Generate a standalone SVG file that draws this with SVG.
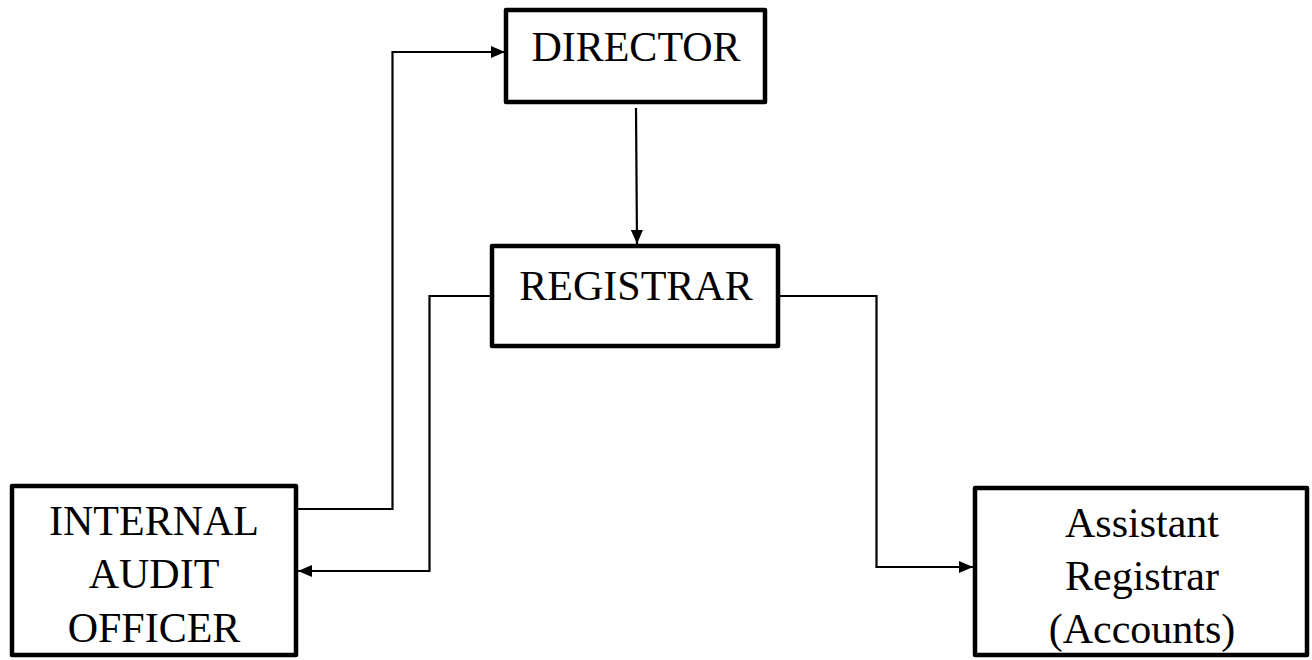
<svg xmlns="http://www.w3.org/2000/svg" width="1312" height="660" viewBox="0 0 1312 660">
<style>
.box{fill:#fff;stroke:#000;stroke-width:4.5;stroke-linejoin:round}
.lbl{font-family:"Liberation Serif","Times New Roman",serif;font-size:42px;fill:#000;text-anchor:middle}
.con{fill:none;stroke:#000;stroke-width:2.2}
</style>
<defs>
<marker id="arr" viewBox="0 0 14 12" refX="14" refY="6" markerWidth="14" markerHeight="12" markerUnits="userSpaceOnUse" orient="auto">
<path d="M0,0 L14,6 L0,12 Z" fill="#000"/>
</marker>
</defs>
<g id="connectors">
<path class="con" d="M298,509 H392.5 V52 H505" marker-end="url(#arr)"/>
<path class="con" d="M636,108 L637,244" marker-end="url(#arr)"/>
<path class="con" d="M492,296 H429.5 V571 H298" marker-end="url(#arr)"/>
<path class="con" d="M780,296 H876.5 V567 H973" marker-end="url(#arr)"/>
</g>
<g id="director">
<rect class="box" x="506" y="10" width="259" height="92"/>
<text class="lbl" x="636" y="61">DIRECTOR</text>
</g>
<g id="registrar">
<rect class="box" x="492" y="246" width="286" height="100"/>
<text class="lbl" x="636" y="300">REGISTRAR</text>
</g>
<g id="internal-audit-officer">
<rect class="box" x="12" y="486" width="284" height="169"/>
<text class="lbl" x="154" y="535">INTERNAL</text>
<text class="lbl" x="154" y="588">AUDIT</text>
<text class="lbl" x="154" y="642">OFFICER</text>
</g>
<g id="assistant-registrar">
<rect class="box" x="975" y="488" width="332" height="167"/>
<text class="lbl" x="1142" y="537">Assistant</text>
<text class="lbl" x="1142" y="590">Registrar</text>
<text class="lbl" x="1142" y="643">(Accounts)</text>
</g>
</svg>
